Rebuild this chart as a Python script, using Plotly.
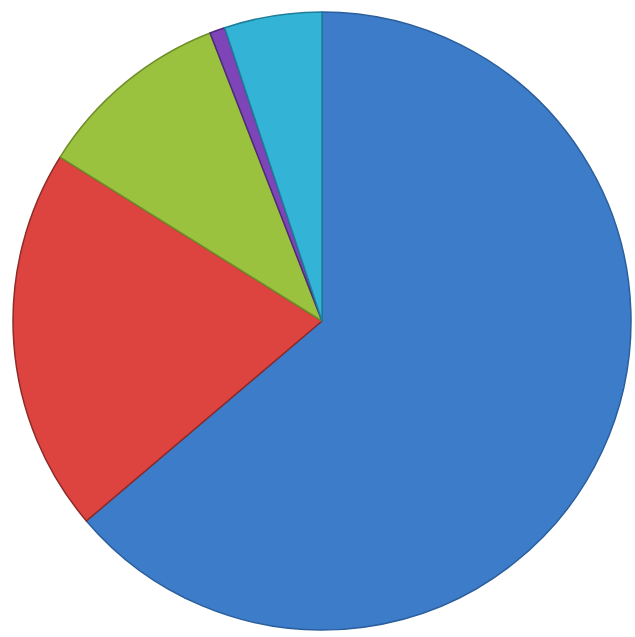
import plotly.graph_objects as go

labels = ["Blue", "Red", "Green", "Purple", "Cyan"]
values = [63.8, 20.1, 10.2, 0.8, 5.1]
colors = ["#3D7CC9", "#DD4440", "#9AC23E", "#7D45B8", "#33B4D6"]
edge_colors = ["#2A5E9C", "#8E2A27", "#6E8E2A", "#4F2A7A", "#1F7E99"]

fig = go.Figure(go.Pie(
    labels=labels,
    values=values,
    sort=False,
    direction="clockwise",
    rotation=0,
    textinfo="none",
    hoverinfo="label+percent",
    marker=dict(colors=colors, line=dict(color=edge_colors, width=1.5)),
    showlegend=False,
))
fig.update_layout(
    width=635, height=637,
    margin=dict(l=13, r=4, t=12, b=7),
    paper_bgcolor="white",
    plot_bgcolor="white",
)
fig.write_html("out.html")
